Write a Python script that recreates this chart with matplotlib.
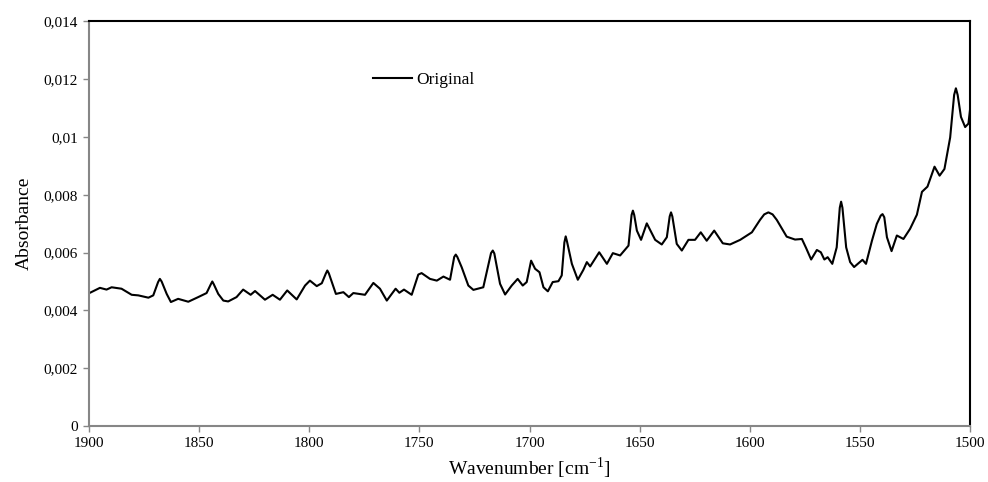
import numpy as np
import matplotlib.pyplot as plt
from matplotlib.ticker import FuncFormatter, MultipleLocator

# spectrum (wavenumber in cm-1, absorbance)
wavenumber = [1900, 1899.5, 1895, 1892, 1889.7, 1885.2, 1880.6, 1877.6, 1873, 1870.8,
              1868.6, 1867.8, 1867.0, 1864.7, 1862.8, 1859.5, 1854.9, 1850.4, 1846.6, 1844.7,
              1844, 1843.3, 1841.3, 1839, 1836.8, 1833, 1830, 1826.6, 1824.6, 1820.1,
              1816.6, 1813.3, 1810, 1805.7, 1801.9, 1799.7, 1796.6, 1794.3, 1792.5, 1791.8,
              1791.1, 1787.9, 1784.5, 1782, 1780, 1774.7, 1770.9, 1767.9, 1764.8, 1760.8,
              1759.1, 1757, 1753.5, 1750.5, 1749, 1745.2, 1742.1, 1739.1, 1736.1, 1734.2,
              1733.5, 1732.8, 1730.8, 1727.8, 1725.5, 1721, 1717.5, 1716.7, 1716.0, 1713.4,
              1711.1, 1708.1, 1705.4, 1703.1, 1701.3, 1699.3, 1697.5, 1695.5, 1693.7, 1691.7,
              1689.5, 1686.9, 1685.4, 1684.2, 1683.6, 1683.0, 1680.8, 1678.1, 1675.6, 1674,
              1672.5, 1668.4, 1664.9, 1662.2, 1658.9, 1655.1, 1653.7, 1653.1, 1652.5, 1651.3,
              1649.4, 1646.8, 1643, 1640, 1637.7, 1636.4, 1635.8, 1635.2, 1633.2, 1630.9,
              1627.9, 1624.9, 1622.3, 1619.6, 1616.2, 1612.3, 1609, 1604.4, 1599.1, 1595.4,
              1593.5, 1591.6, 1589.7, 1587.8, 1583.3, 1579.5, 1576.4, 1574.5, 1572.2, 1569.6,
              1567.8, 1566.2, 1564.7, 1562.6, 1560.6, 1559.2, 1558.6, 1558.0, 1556.3, 1554.5,
              1552.7, 1548.9, 1547.3, 1544.6, 1542.4, 1540.6, 1539.8, 1539.0, 1537.8, 1535.7,
              1533.3, 1530.3, 1527.3, 1524.2, 1521.9, 1519.4, 1516.2, 1513.9, 1511.7, 1509.1,
              1507.3, 1506.5, 1505.7, 1504.2, 1502.3, 1500.8, 1500]
absorbance = [0.00460, 0.00461, 0.00478, 0.00472, 0.00480, 0.00475, 0.00454, 0.00452, 0.00444, 0.00452,
              0.00498, 0.00509, 0.00500, 0.00457, 0.00429, 0.00440, 0.00430, 0.00446, 0.00460, 0.00490,
              0.00500, 0.00490, 0.00457, 0.00434, 0.00431, 0.00446, 0.00472, 0.00454, 0.00467, 0.00437,
              0.00454, 0.00437, 0.00469, 0.00438, 0.00486, 0.00503, 0.00484, 0.00494, 0.00527, 0.00538,
              0.00528, 0.00457, 0.00463, 0.00446, 0.00460, 0.00454, 0.00495, 0.00475, 0.00434, 0.00475,
              0.00461, 0.00472, 0.00454, 0.00524, 0.00529, 0.00509, 0.00503, 0.00517, 0.00506, 0.00585,
              0.00593, 0.00585, 0.00549, 0.00486, 0.00471, 0.00480, 0.00598, 0.00607, 0.00597, 0.00492,
              0.00455, 0.00486, 0.00509, 0.00486, 0.00498, 0.00572, 0.00544, 0.00532, 0.00480, 0.00466,
              0.00498, 0.00501, 0.00521, 0.00635, 0.00656, 0.00638, 0.00561, 0.00506, 0.00540, 0.00567,
              0.00552, 0.00601, 0.00561, 0.00598, 0.00590, 0.00624, 0.00730, 0.00745, 0.00730, 0.00676,
              0.00644, 0.00701, 0.00644, 0.00628, 0.00653, 0.00725, 0.00739, 0.00725, 0.00630, 0.00607,
              0.00644, 0.00644, 0.00670, 0.00641, 0.00676, 0.00632, 0.00628, 0.00644, 0.00670, 0.00713,
              0.00732, 0.00739, 0.00732, 0.00713, 0.00655, 0.00645, 0.00647, 0.00616, 0.00576, 0.00609,
              0.00601, 0.00576, 0.00584, 0.00561, 0.00618, 0.00755, 0.00776, 0.00755, 0.00618, 0.00567,
              0.00550, 0.00575, 0.00561, 0.00641, 0.00699, 0.00728, 0.00733, 0.00722, 0.00653, 0.00605,
              0.00659, 0.00647, 0.00682, 0.00731, 0.00810, 0.00828, 0.00897, 0.00866, 0.00889, 0.00998,
              0.01145, 0.01168, 0.01145, 0.01069, 0.01034, 0.01046, 0.01100]

plt.rcParams['font.family'] = ['Liberation Serif', 'DejaVu Serif']
plt.rcParams['mathtext.fontset'] = 'custom'
plt.rcParams['mathtext.rm'] = 'Liberation Serif'

fig = plt.figure(figsize=(9.88, 4.82), dpi=100)
ax = fig.add_axes([0.090, 0.116, 0.892, 0.840])

ax.plot(wavenumber, absorbance, color='black', linewidth=1.5, label='Original')

ax.set_xlim(1900, 1500)
ax.set_ylim(0, 0.014)
ax.xaxis.set_major_locator(MultipleLocator(50))
ax.yaxis.set_major_locator(MultipleLocator(0.002))
ax.yaxis.set_major_formatter(FuncFormatter(lambda v, pos: f"{v:g}".replace('.', ',')))

grey = '#868686'
for side in ('left', 'bottom'):
    ax.spines[side].set_color(grey)
    ax.spines[side].set_linewidth(1.5)
for side in ('top', 'right'):
    ax.spines[side].set_color('black')
    ax.spines[side].set_linewidth(1.5)
ax.tick_params(axis='both', direction='out', length=4, width=1, color=grey,
               labelsize=11, pad=4)

ax.set_xlabel('Wavenumber [cm$^{\\mathrm{-1}}$]', fontsize=14, labelpad=4)
ax.set_ylabel('Absorbance', fontsize=14, labelpad=8)

ax.legend(loc='center left', bbox_to_anchor=(0.305, 0.855), frameon=False,
          fontsize=12.5, handlelength=2.2, handletextpad=0.3)

fig.savefig('out.png', dpi=100)
